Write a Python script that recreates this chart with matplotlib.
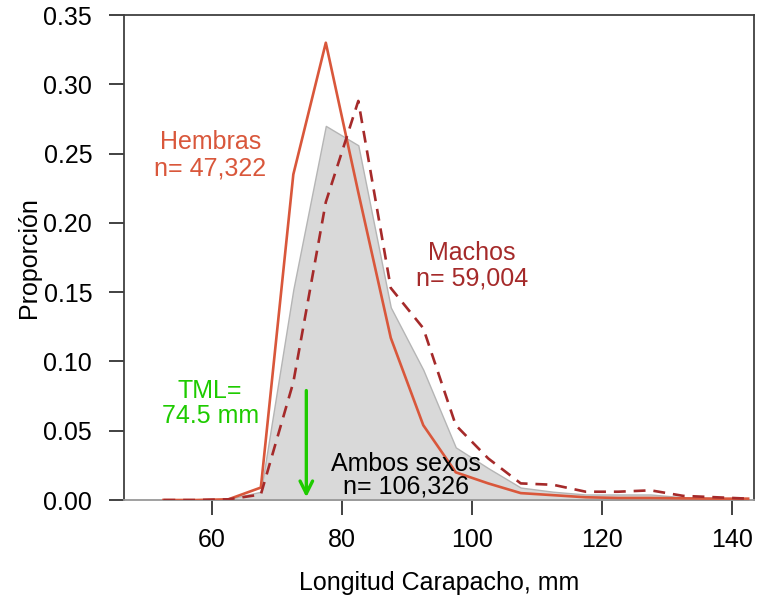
import numpy as np
import matplotlib
matplotlib.use('Agg')
import matplotlib.pyplot as plt

plt.rcParams['font.family'] = ['Liberation Sans', 'DejaVu Sans']

# talla (marca de clase, mm)
talla = [52.5, 57.5, 62.5, 67.5, 72.5, 77.5, 82.5, 87.5, 92.5, 97.5,
         102.5, 107.5, 112.5, 117.5, 122.5, 127.5, 132.5, 137.5, 142.5]

# proporcion por sexo
hembras = [0.0, 0.0, 0.0005, 0.009, 0.235, 0.330, 0.222, 0.117, 0.054, 0.020,
           0.012, 0.005, 0.0035, 0.002, 0.0015, 0.0015, 0.0012, 0.001, 0.001]
machos = [0.0, 0.0, 0.0005, 0.004, 0.085, 0.215, 0.288, 0.153, 0.124, 0.054,
          0.030, 0.012, 0.011, 0.006, 0.006, 0.007, 0.003, 0.002, 0.001]
ambos = [0.0, 0.0, 0.0007, 0.006, 0.152, 0.270, 0.256, 0.139, 0.094, 0.038,
         0.023, 0.009, 0.006, 0.004, 0.004, 0.004, 0.002, 0.0015, 0.001]

tml = 74.5

col_h = '#d9573b'
col_m = '#a52a2a'
col_tml = '#1ecb00'
fs = 18

fig = plt.figure(figsize=(7.57, 6.01), dpi=100)
ax = fig.add_axes([0.164, 0.168, 0.832, 0.807])

ax.fill_between(talla, ambos, 0, facecolor='#d9d9d9', edgecolor='#b5b5b5', lw=1.0, zorder=1)
ax.plot(talla, hembras, color=col_h, lw=1.9, zorder=3)
ax.plot(talla, machos, color=col_m, lw=1.9, ls=(0, (4.5, 3)), zorder=3)

# flecha TML
ax.annotate('', xy=(tml, 0.0), xytext=(tml, 0.081),
            arrowprops=dict(arrowstyle='->,head_length=0.9,head_width=0.45',
                            color=col_tml, lw=2.4), zorder=4)

ax.text(59.7, 0.249, 'Hembras\nn= 47,322', color=col_h, fontsize=fs,
        ha='center', va='center', linespacing=1.15)
ax.text(100.0, 0.169, 'Machos\nn= 59,004', color=col_m, fontsize=fs,
        ha='center', va='center', linespacing=1.05)
ax.text(59.7, 0.070, 'TML=\n74.5 mm', color=col_tml, fontsize=fs,
        ha='center', va='center', linespacing=1.05)
ax.text(89.8, 0.018, 'Ambos sexos\nn= 106,326', color='black', fontsize=fs,
        ha='center', va='center', linespacing=0.95, zorder=5)

ax.set_xlim(46.46, 143.4)
ax.set_ylim(0, 0.35)
ax.set_xticks([60, 80, 100, 120, 140])
ax.set_yticks(np.arange(0, 0.351, 0.05))
ax.set_yticklabels(['%.2f' % v for v in np.arange(0, 0.351, 0.05)])
ax.tick_params(axis='both', labelsize=fs, length=11, width=1.3, color='#333333')
ax.tick_params(axis='y', pad=12)
ax.tick_params(axis='x', pad=9)

for s in ax.spines.values():
    s.set_color('#404040')
    s.set_linewidth(1.3)
ax.spines['bottom'].set_color('#999999')

ax.set_xlabel('Longitud Carapacho, mm', fontsize=fs, labelpad=14)
ax.set_ylabel('Proporción', fontsize=fs, labelpad=2)

fig.savefig('out.png', dpi=100)
